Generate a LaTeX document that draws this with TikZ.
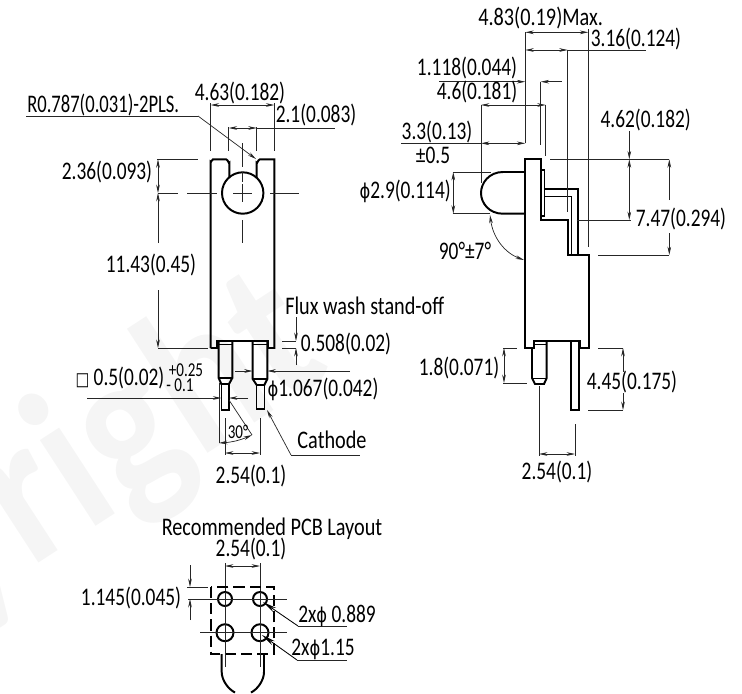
\documentclass[tikz,border=0pt]{standalone}
\usepackage{fontspec}
\setmainfont[FakeStretch=0.765]{Carlito}
\newfontfamily\wordfont[FakeStretch=0.80]{Carlito}
\newfontfamily\markfont[FakeStretch=0.88]{Carlito}
\newfontfamily\dejavu[FakeStretch=0.8]{DejaVu Sans}
\usepackage{tikz}
\usetikzlibrary{arrows.meta}
\newcommand{\dia}{{\dejavu\fontsize{14.5}{15}\selectfont\char"03D5}}
\tikzset{
  part/.style={line width=1.4pt,black},
  dimline/.style={line width=0.5pt,black!85},
  dimarr/.style={dimline,{Stealth[length=6pt,width=2.6pt]}-{Stealth[length=6pt,width=2.6pt]}},
  toarr/.style={dimline,-{Stealth[length=6pt,width=2.6pt]}},
  lbl/.style={inner sep=0pt,font=\fontsize{18}{18}\selectfont},
  wordlbl/.style={inner sep=0pt,font=\wordfont\fontsize{18}{18}\selectfont},
  smalllbl/.style={inner sep=0pt,font=\fontsize{14}{14}\selectfont},
  centreline/.style={line width=0.5pt,black!85},
}
\begin{document}
\begin{tikzpicture}[x=0.025cm,y=-0.025cm]
  \useasboundingbox (0,0) rectangle (742,693);
  \begin{scope}
    \clip (0,0) rectangle (742,693);
    \node[inner sep=0pt,anchor=base west,rotate=33,text=black!4,font=\markfont\fontsize{150}{150}\selectfont\bfseries] (mark) at (-292,778) {Copyright};
  \end{scope}

  % front view
  \draw[part] (210.7,348)--(210.7,162) to[out=-90,in=180] (213,159.3)--(226,159.3) to[out=0,in=-90] (229.3,163)--(229.3,178);
  \draw[part] (256.7,178)--(256.7,163) to[out=-90,in=180] (260,159.3)--(274.3,159.3)--(274.3,348)--(268,348)--(268,341)--(217,341)--(217,348)--(210.7,348);
  \draw[part] (242.7,193) circle (20.7);
  \draw[part] (218.7,341)--(218.7,378)--(221.3,384)--(229,384)--(232.3,378)--(232.3,341);
  \draw[part] (218.7,378)--(232.3,378);
  \draw[line width=0.9pt] (221.3,384)--(221.3,410)--(229,410)--(229,384);
  \draw[part] (252.7,341)--(252.7,379)--(256.7,385)--(264.3,385)--(267.3,379)--(267.3,341);
  \draw[part] (252.7,379)--(267.3,379);
  \draw[line width=0.9pt] (256.7,385)--(256.7,409)--(264.3,409)--(264.3,385);
  \draw[line width=0.7pt] (218.7,344)--(232.3,344) (252.7,344)--(267.3,344);

  \foreach \xa/\xb in {158/178,187/217,233/252,270/299} \draw[centreline] (\xa,193)--(\xb,193);
  \foreach \ya/\yb in {143/167,172/182,184/202,220/243} \draw[centreline] (242.7,\ya)--(242.7,\yb);

  \draw[dimline] (210.7,103)--(210.7,151);
  \draw[dimline] (274.3,103)--(274.3,151);
  \draw[dimarr] (210.7,105)--(274.3,105);
  \node[lbl] (frontwidth) at (240,92.7) {4.63(0.182)};
  \draw[dimline] (228.7,127)--(228.7,151);
  \draw[dimline] (256.7,127)--(256.7,151);
  \draw[dimarr] (228.7,128)--(256.7,128);
  \draw[dimline] (256.7,128)--(335,128);
  \node[lbl] (slotwidth) at (316,115) {2.1(0.083)};
  \node[lbl,anchor=west,xscale=0.96,transform shape] (radius) at (27,105) {R0.787(0.031)-2PLS.};
  \draw[dimline] (26,116)--(198,116);
  \draw[toarr] (198,116)--(256,159);

  \draw[dimline] (157,159.3)--(198,159.3);
  \draw[dimarr] (158,159.3)--(158,193);
  \node[lbl] (tophole) at (107,172) {2.36(0.093)};
  \draw[toarr] (158,243)--(158,193);
  \draw[toarr] (158,290)--(158,348);
  \draw[dimline] (158,348)--(208,348);
  \node[lbl] (holebody) at (151,265) {11.43(0.45)};

  \node[wordlbl,anchor=west] (flux) at (285,306) {Flux wash stand-off};
  \draw[dimline] (282,341)--(296,341);
  \draw[dimline] (282,348)--(296,348);
  \draw[toarr] (296,317)--(296,341);
  \draw[toarr] (296,365)--(296,348);
  \node[lbl] (standoff) at (346,344) {0.508(0.02)};

  \draw[toarr] (235,371)--(252.7,371);
  \draw[toarr] (350,371)--(267.3,371);
  \node[lbl] (pindia) at (323,389) {\dia 1.067(0.042)};

  \node[lbl] (pinsq) at (120,378) {{\dejavu\fontsize{13}{13}\selectfont\char"25A1}\,0.5(0.02)};
  \node[smalllbl] (plustol) at (186,370) {+0.25};
  \node[smalllbl] (minustol) at (180,385) {- 0.1};
  \draw[toarr] (87,398)--(221.3,398);
  \draw[toarr] (248,398)--(229,398);

  \draw[dimline] (219,383)--(219,443);
  \draw[dimline] (229,400)--(252,435);
  \draw[dimarr] (219,443) to[bend right=10] (252,435);
  \node[smalllbl] (angle) at (238,432) {30°};
  \draw[dimline] (225,418)--(225,455);
  \draw[dimline] (260,418)--(260,455);
  \draw[dimarr] (225,453)--(260,453);
  \node[lbl] (frontpitch) at (251,476) {2.54(0.1)};

  \node[wordlbl] (cathode) at (332,440) {Cathode};
  \draw[toarr] (291,455)--(267,410);
  \draw[dimline] (291,455)--(360,455);

  % side view
  \draw[part] (525.3,348)--(525.3,159.3)--(540.7,159.3)--(540.7,219.7)--(568,219.7)--(568,255)--(589,255)--(589,348)--(580,348)--(580,340.7)--(534.3,340.7)--(534.3,348)--cycle;
  \draw[part] (525.3,172)--(503,172) .. controls (489,172) and (481,183) .. (481,193) .. controls (481,203) and (489,213.7) .. (503,213.7)--(525.3,213.7);
  \draw[line width=0.9pt] (540.7,170)--(544.7,170)--(544.7,216)--(540.7,216);
  \draw[part] (545.3,189)--(578.3,189)--(578.3,255);
  \draw[line width=0.9pt] (545.3,196.7)--(571.7,196.7)--(571.7,255);
  \draw[part] (532,348)--(532,378)--(535,384)--(544,384)--(546.7,378)--(546.7,341);
  \draw[line width=0.7pt] (534.3,344)--(546.7,344) (532,378)--(546.7,378);
  \draw[part] (571.3,341)--(571.3,410)--(579,410)--(579,341);

  \draw[dimline] (525.3,32)--(525.3,143);
  \draw[dimline] (588.3,29)--(588.3,247);
  \draw[dimarr] (525.3,32.3)--(588.3,32.3);
  \node[wordlbl] (sidemax) at (540.7,18) {4.83(0.19)Max.};
  \draw[dimarr] (525.3,50)--(567.7,50);
  \draw[dimline] (567.7,50)--(646,50);
  \draw[dimline] (567.7,50)--(567.7,211.7);
  \node[lbl] (sidelead) at (636,39) {3.16(0.124)};
  \node[lbl] (flange) at (467,68) {1.118(0.044)};
  \draw[toarr] (439,81.7)--(525.3,81.7);
  \draw[toarr] (561.7,81.7)--(540.7,81.7);
  \draw[dimline] (540.7,81.7)--(540.7,145);
  \node[lbl] (ledbody) at (477,92) {4.6(0.181)};
  \draw[dimarr] (481,105)--(545.7,105);
  \draw[dimline] (481,105)--(481,182.7);
  \draw[dimline] (545.7,105)--(545.7,156);
  \node[lbl] (ledlen) at (437,132) {3.3(0.13)};
  \draw[dimline] (401,143.3)--(481,143.3);
  \draw[dimarr] (481,143.3)--(525.3,143.3);
  \node[lbl] (ledtol) at (433,155) {±0.5};
  \draw[dimline] (452.7,172)--(490.7,172);
  \draw[dimline] (452.7,213.7)--(490,213.7);
  \draw[dimarr] (453.3,172)--(453.3,213.7);
  \node[lbl,anchor=east] (leddia) at (451,191) {\dia 2.9(0.114)};

  \node[lbl] (toplead) at (645.7,120) {4.62(0.182)};
  \draw[toarr] (629.3,131)--(629.3,159.3);
  \draw[dimarr] (629.3,159.3)--(629.3,220);
  \draw[dimline] (550,159.3)--(669.3,159.3);
  \draw[dimline] (576.7,220)--(630.7,220);
  \node[lbl] (sidestep) at (681,219) {7.47(0.294)};
  \draw[toarr] (669.3,200)--(669.3,159.3);
  \draw[toarr] (669.3,233)--(669.3,255);
  \draw[dimline] (598,255)--(669.3,255);
  \node[lbl] (ledangle) at (465,250.7) {90°±7°};
  \draw[dimarr] (490,215) .. controls (493,238) and (505,253) .. (524,260);

  \node[lbl] (shortpin) at (459,368) {1.8(0.071)};
  \draw[dimline] (503,348)--(517,348);
  \draw[dimline] (503,383)--(527,383);
  \draw[dimarr] (504,348)--(504,383);
  \node[lbl] (longpin) at (632,382) {4.45(0.175)};
  \draw[dimline] (598,348)--(623,348);
  \draw[dimline] (588,410)--(623,410);
  \draw[toarr] (623,372)--(623,348);
  \draw[toarr] (623,393)--(623,410);
  \draw[dimline] (539,386)--(539,456);
  \draw[dimline] (575,424)--(575,456);
  \draw[dimarr] (539,454)--(575,454);
  \node[lbl] (sidepitch) at (557,472) {2.54(0.1)};

  % PCB layout
  \node[wordlbl] (pcbtitle) at (272,529) {Recommended PCB Layout};
  \node[lbl] (pcbpitch) at (251,549) {2.54(0.1)};
  \draw[dimline] (225,563)--(225,592);
  \draw[dimline] (260,563)--(260,592);
  \draw[dimarr] (225,566)--(260,566);
  \draw[part,dashed,dash pattern=on 8pt off 3.5pt] (211,587) rectangle (274,654);
  \foreach \px in {225,260} {
    \draw[part] (\px,599) circle (7);
    \draw[part] (\px,632.7) circle (8.5);
    \draw[centreline] (\px,592)--(\px,667);
  }
  \draw[centreline] (200,599)--(287,599);
  \draw[centreline] (200,632.7)--(287,632.7);
  \draw[dimline] (187,587)--(208,587);
  \draw[dimline] (188,599)--(208,599);
  \draw[toarr] (190,565)--(190,587);
  \draw[toarr] (190,620)--(190,599);
  \node[lbl] (pcbedge) at (131,598) {1.145(0.045)};
  \draw[part] (221.7,654)--(221.7,672) .. controls (221.7,680) and (228,689) .. (235,692.5);
  \draw[part] (264,654)--(264,672) .. controls (264,680) and (258,689) .. (251,692.5);
  \draw[dimline] (298,626)--(347,626);
  \draw[dimline] (297,660)--(347,660);
  \draw[line width=0.6pt,{Stealth[length=10pt,width=3.5pt]}-] (263,602)--(298,626);
  \draw[line width=0.6pt,{Stealth[length=10pt,width=3.5pt]}-] (262,635)--(297,660);
  \node[lbl] (smallhole) at (337,616) {2x\dia\ 0.889};
  \node[lbl] (bighole) at (323,649) {2x\dia 1.15};
\end{tikzpicture}
\end{document}
